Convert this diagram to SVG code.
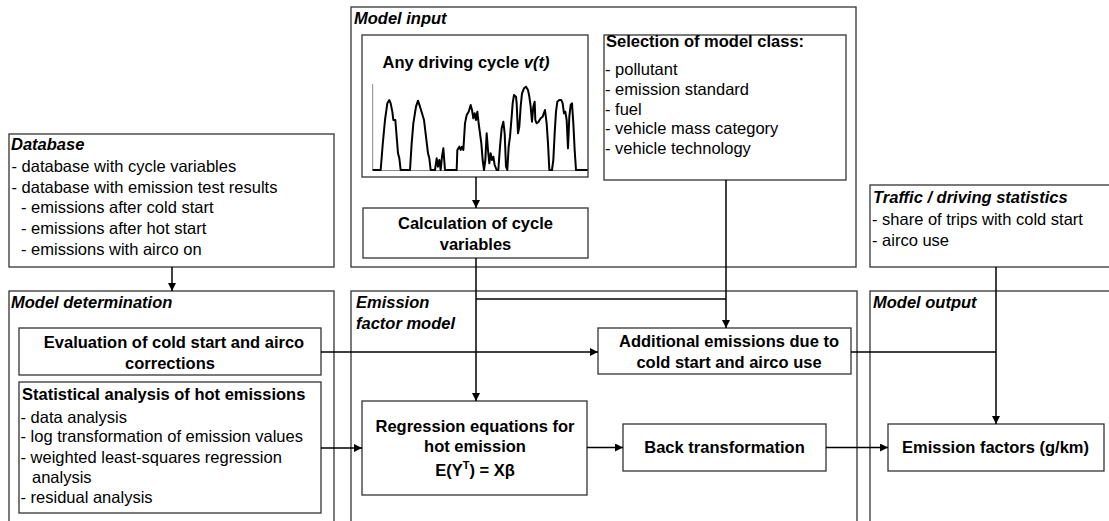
<svg xmlns="http://www.w3.org/2000/svg" width="1109" height="521" viewBox="0 0 1109 521">
<style>
  text { font-family: "Liberation Sans", Arial, sans-serif; font-size: 16.5px; fill: #000; }
  .h { font-weight: bold; font-style: italic; }
  .b { font-weight: bold; }
  .c { text-anchor: middle; }
  .box { fill: #fff; stroke: #333; stroke-width: 1.3; }
  .con { fill: none; stroke: #000; stroke-width: 1.5; }
  .arr { marker-end: url(#ah); }
</style>
<defs>
  <marker id="ah" viewBox="0 0 10 10" refX="10" refY="5" markerWidth="9" markerHeight="8" markerUnits="userSpaceOnUse" orient="auto">
    <path d="M0,0 L10,5 L0,10 z" fill="#000"/>
  </marker>
</defs>
<rect width="1109" height="521" fill="#fff"/>

<!-- container panels -->
<g id="database">
  <rect class="box" x="9" y="134" width="325" height="133"/>
  <text class="h" x="11" y="150">Database</text>
  <text x="11.5" y="172">- database with cycle variables</text>
  <text x="11.5" y="192.7">- database with emission test results</text>
  <text x="21" y="213.4">- emissions after cold start</text>
  <text x="21" y="234.1">- emissions after hot start</text>
  <text x="21" y="254.8">- emissions with airco on</text>
</g>
<g id="model-input">
  <rect class="box" x="351" y="7" width="505" height="260"/>
  <text class="h" x="354" y="24">Model input</text>
</g>
<g id="traffic">
  <rect class="box" x="870" y="185" width="260" height="82"/>
  <text class="h" x="873" y="203">Traffic / driving statistics</text>
  <text x="872" y="225">- share of trips with cold start</text>
  <text x="872" y="246">- airco use</text>
</g>
<g id="model-determination">
  <rect class="box" x="9" y="291" width="325" height="260"/>
  <text class="h" x="11" y="308">Model determination</text>
</g>
<g id="emission-factor-model">
  <rect class="box" x="351" y="291" width="506" height="260"/>
  <text class="h" x="356" y="308">Emission</text>
  <text class="h" x="356" y="329">factor model</text>
</g>
<g id="model-output">
  <rect class="box" x="870" y="291" width="260" height="260"/>
  <text class="h" x="873" y="308">Model output</text>
</g>

<!-- inner nodes -->
<g id="driving-cycle">
  <rect class="box" x="362" y="35" width="226" height="142"/>
  <text class="b c" x="466" y="68">Any driving cycle <tspan font-style="italic">v(t)</tspan></text>
  <path d="M372.7,84 V170.5 H587" fill="none" stroke="#888" stroke-width="1"/>
  <polyline transform="translate(360,70) scale(0.33333)" fill="none" stroke="#000" stroke-width="6" stroke-linejoin="round" points="38,300 62,300 68,225 75,150 82,100 88,90 92,100 97,125 100,150 106,150 110,200 114,250 118,265 122,300 150,300 155,220 160,160 168,110 174,92 180,110 186,130 192,150 198,200 204,250 208,265 212,300 225,300 230,265 234,290 238,270 242,300 246,260 250,235 255,300 290,300 292,240 298,230 302,240 306,230 310,240 315,160 320,135 326,125 332,105 336,120 340,145 344,130 348,150 352,125 356,160 360,190 364,220 368,270 372,300 376,270 380,190 384,240 388,280 392,250 396,270 400,260 404,285 410,300 415,300 420,230 425,175 430,155 434,190 438,290 442,300 446,230 450,200 455,140 458,100 462,75 468,80 470,100 474,190 478,170 482,110 486,70 492,55 498,50 504,60 508,80 512,110 516,155 520,110 524,95 526,150 530,160 536,155 542,145 548,140 555,120 560,160 564,220 568,300 576,300 580,270 584,190 588,125 592,95 598,90 604,90 608,100 612,130 616,125 620,150 624,235 628,140 632,105 636,100 640,160 644,240 648,300 683,300"/>
</g>
<g id="selection">
  <rect class="box" x="604" y="35" width="242" height="145"/>
  <text class="b" x="606" y="47">Selection of model class:</text>
  <text x="605" y="75">- pollutant</text>
  <text x="605" y="95">- emission standard</text>
  <text x="605" y="115">- fuel</text>
  <text x="605" y="134">- vehicle mass category</text>
  <text x="605" y="154">- vehicle technology</text>
</g>
<g id="calc">
  <rect class="box" x="363" y="208" width="225" height="50"/>
  <text class="b c" x="475.5" y="229">Calculation of cycle</text>
  <text class="b c" x="475.5" y="250">variables</text>
</g>
<g id="evaluation">
  <rect class="box" x="19" y="328" width="302" height="47"/>
  <text class="b c" x="174" y="348">Evaluation of cold start and airco</text>
  <text class="b c" x="170" y="369">corrections</text>
</g>
<g id="statistical">
  <rect class="box" x="19" y="382" width="302" height="131"/>
  <text class="b" x="22" y="400">Statistical analysis of hot emissions</text>
  <text x="20.5" y="422.5">- data analysis</text>
  <text x="20.5" y="441.5">- log transformation of emission values</text>
  <text x="20.5" y="462.5">- weighted least-squares regression</text>
  <text x="32" y="482.5">analysis</text>
  <text x="20.5" y="503">- residual analysis</text>
</g>
<g id="additional">
  <rect class="box" x="598" y="328" width="253" height="46"/>
  <text class="b c" x="729" y="346.5">Additional emissions due to</text>
  <text class="b c" x="729" y="367.5">cold start and airco use</text>
</g>
<g id="regression">
  <rect class="box" x="362" y="401" width="225" height="94"/>
  <text class="b c" x="475" y="432">Regression equations for</text>
  <text class="b c" x="475" y="452">hot emission</text>
  <text class="b c" x="475" y="476">E(Y<tspan font-size="11px" dy="-7">T</tspan><tspan dy="7">) = Xβ</tspan></text>
</g>
<g id="back">
  <rect class="box" x="623" y="424" width="203" height="47"/>
  <text class="b c" x="724.5" y="453">Back transformation</text>
</g>
<g id="emission-factors">
  <rect class="box" x="888" y="424" width="216" height="47"/>
  <text class="b c" x="995.5" y="453">Emission factors (g/km)</text>
</g>

<!-- connectors -->
<g id="connectors">
  <line class="con arr" x1="172" y1="267" x2="172" y2="291"/>
  <line class="con arr" x1="476" y1="177" x2="476" y2="208"/>
  <line class="con arr" x1="476" y1="258" x2="476" y2="401"/>
  <line class="con" x1="476" y1="299" x2="726" y2="299"/>
  <line class="con arr" x1="726" y1="180" x2="726" y2="328"/>
  <line class="con arr" x1="321" y1="352" x2="598" y2="352"/>
  <line class="con" x1="851" y1="352" x2="996" y2="352"/>
  <line class="con arr" x1="996" y1="267" x2="996" y2="424"/>
  <line class="con arr" x1="321" y1="448" x2="362" y2="448"/>
  <line class="con arr" x1="587" y1="447.5" x2="623" y2="447.5"/>
  <line class="con arr" x1="826" y1="447.5" x2="888" y2="447.5"/>
</g>
</svg>
